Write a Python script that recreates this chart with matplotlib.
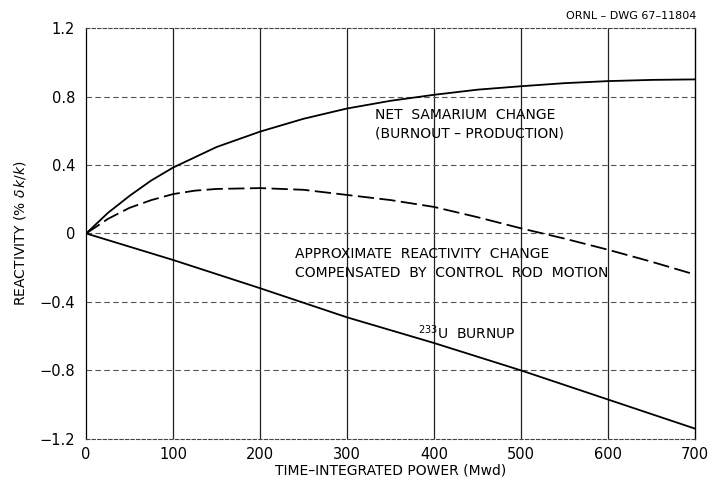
import matplotlib
matplotlib.use("Agg")
import matplotlib.pyplot as plt

# Time-integrated power (Mwd) where each curve was read
SM_X = [0, 25, 50, 75, 100, 150, 200, 250, 300, 350, 400, 450, 500, 550, 600, 650, 700]
SM_Y = [0, 0.12, 0.22, 0.31, 0.385, 0.505, 0.595, 0.67, 0.73, 0.775, 0.81, 0.84, 0.86, 0.878, 0.89, 0.897, 0.90]

ROD_X = [0, 25, 50, 75, 100, 125, 150, 200, 250, 300, 350, 400, 450, 500, 550, 600, 650, 700]
ROD_Y = [0, 0.085, 0.15, 0.195, 0.23, 0.25, 0.26, 0.265, 0.255, 0.225, 0.195, 0.155, 0.095, 0.03, -0.03, -0.095, -0.165, -0.24]

U_X = [0, 100, 200, 300, 400, 500, 600, 700]
U_Y = [0, -0.155, -0.32, -0.49, -0.64, -0.80, -0.97, -1.14]

X_TICKS = [0, 100, 200, 300, 400, 500, 600, 700]
Y_TICKS = [-1.2, -0.8, -0.4, 0, 0.4, 0.8, 1.2]
Y_TICK_LABELS = ["\u22121.2", "\u22120.8", "\u22120.4", "0", "0.4", "0.8", "1.2"]

plt.rcParams["font.family"] = "DejaVu Sans"

fig = plt.figure(figsize=(7.12, 4.92), dpi=100)
ax = fig.add_axes([0.121, 0.108, 0.855, 0.835])

# grid: solid verticals, broken horizontals
for x in X_TICKS[1:-1]:
    ax.axvline(x, color="#222222", lw=0.9, zorder=1)
for y in Y_TICKS[1:-1]:
    ax.axhline(y, color="#555555", lw=0.8, ls=(0, (5, 3)), zorder=1)

ax.plot(SM_X, SM_Y, color="black", lw=1.3, zorder=3)
ax.plot(ROD_X, ROD_Y, color="black", lw=1.3, ls=(0, (9, 3)), zorder=3)
ax.plot(U_X, U_Y, color="black", lw=1.3, zorder=3)

ax.set_xlim(0, 700)
ax.set_ylim(-1.2, 1.2)
ax.set_xticks(X_TICKS)
ax.set_yticks(Y_TICKS)
ax.set_yticklabels(Y_TICK_LABELS)
ax.tick_params(length=0, labelsize=10.5)
ax.tick_params(axis="x", pad=6)
ax.tick_params(axis="y", pad=8)

for side in ["top", "bottom"]:
    ax.spines[side].set_linestyle((0, (3, 2)))
    ax.spines[side].set_color("#444444")
    ax.spines[side].set_linewidth(0.8)
ax.spines["left"].set_linewidth(0.9)
ax.spines["right"].set_linewidth(1.0)

ax.set_xlabel("TIME\u2013INTEGRATED POWER (Mwd)", fontsize=10, labelpad=1)
ax.set_ylabel("REACTIVITY (% $\\delta\\,k/k$)", fontsize=10, labelpad=8)

txt = dict(fontsize=10, color="black", zorder=4)
ax.text(332, 0.69, "NET  SAMARIUM  CHANGE", ha="left", va="center", **txt)
ax.text(332, 0.585, "(BURNOUT \u2013 PRODUCTION)", ha="left", va="center", **txt)
ax.text(240, -0.12, "APPROXIMATE  REACTIVITY  CHANGE", ha="left", va="center", **txt)
ax.text(240, -0.23, "COMPENSATED  BY  CONTROL  ROD  MOTION", ha="left", va="center", **txt)
ax.text(382, -0.58, "$^{233}$U  BURNUP", ha="left", va="center", **txt)

fig.text(0.978, 0.968, "ORNL \u2013 DWG 67\u201311804", ha="right", va="center", fontsize=8)

fig.savefig("out.png", dpi=100)
